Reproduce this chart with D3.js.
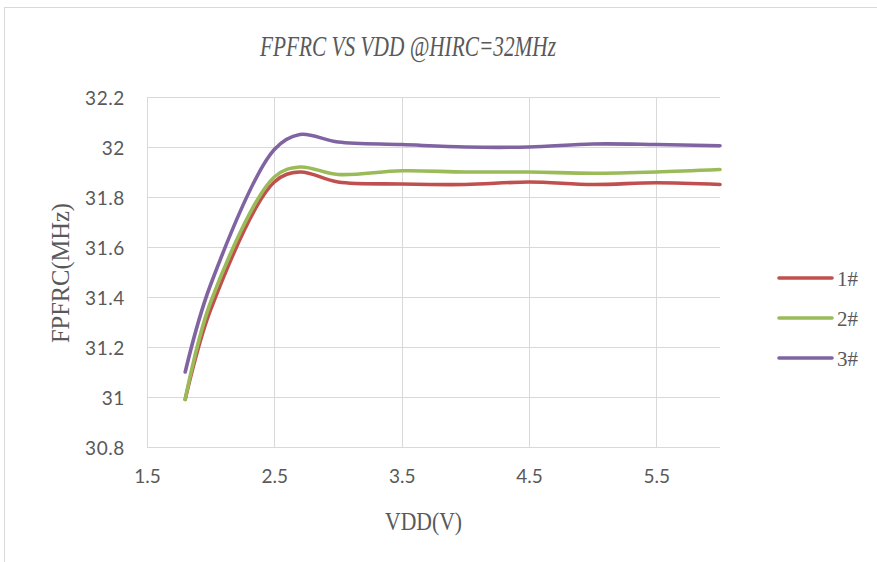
<!DOCTYPE html>
<html>
<head>
<meta charset="utf-8">
<script src="https://cdn.jsdelivr.net/npm/d3@7/dist/d3.min.js"></script>
<style>
  html, body { margin: 0; padding: 0; background: #fff; }
  svg { display: block; }
</style>
</head>
<body>
<script>
// ---- data ----
const vdd = [1.8, 2.0, 2.5, 2.7, 3.0, 3.5, 4.0, 4.5, 5.0, 5.5, 6.0];
const s1 = [30.99, 31.35, 31.86, 31.90, 31.86, 31.852, 31.85, 31.86, 31.85, 31.857, 31.85];
const s2 = [30.99, 31.38, 31.88, 31.92, 31.89, 31.905, 31.90, 31.90, 31.895, 31.90, 31.91];
const s3 = [31.10, 31.45, 31.99, 32.05, 32.02, 32.01, 32.00, 32.00, 32.012, 32.01, 32.005];
const seriesNames = ["1#", "2#", "3#"];
const xTicks = [1.5, 2.5, 3.5, 4.5, 5.5];
const yTicks = [30.8, 31, 31.2, 31.4, 31.6, 31.8, 32, 32.2];
const titleText = "FPFRC VS VDD @HIRC=32MHz";
const xLabel = "VDD(V)";
const yLabel = "FPFRC(MHz)";

const colors = ["#C0504D", "#9BBB59", "#8064A2"];
const series = [s1, s2, s3];

const W = 877, H = 562;
const svg = d3.select("body").append("svg").attr("width", W).attr("height", H);

// chart frame
svg.append("rect").attr("x", 4.5).attr("y", 7.5).attr("width", W + 20).attr("height", H + 20)
  .attr("fill", "#fff").attr("stroke", "#D9D9D9").attr("stroke-width", 1);

const plot = { left: 147, right: 720, top: 97, bottom: 447 };
const x = d3.scaleLinear().domain([1.5, 6.0]).range([plot.left, plot.right]);
const y = d3.scaleLinear().domain([30.8, 32.2]).range([plot.bottom, plot.top]);

// gridlines
const g = svg.append("g");
g.selectAll(".hg").data(yTicks).enter().append("line")
  .attr("x1", plot.left).attr("x2", plot.right)
  .attr("y1", d => Math.round(y(d)) + 0.5).attr("y2", d => Math.round(y(d)) + 0.5)
  .attr("stroke", "#D9D9D9").attr("stroke-width", 1);
g.selectAll(".vg").data(xTicks).enter().append("line")
  .attr("y1", plot.top).attr("y2", plot.bottom)
  .attr("x1", d => Math.round(x(d)) + 0.5).attr("x2", d => Math.round(x(d)) + 0.5)
  .attr("stroke", "#D9D9D9").attr("stroke-width", 1);

// axes via d3 axis generators (labels only)
const labelFont = "Lato, 'Open Sans', sans-serif";
const yAxis = svg.append("g").attr("transform", `translate(${plot.left - 22},0)`)
  .call(d3.axisLeft(y).tickValues(yTicks).tickSize(0).tickPadding(0).tickFormat(d => String(+d.toFixed(1))));
yAxis.select(".domain").remove();
yAxis.selectAll("text").attr("fill", "#595959").style("font-family", labelFont).style("font-size", "19px")
  .attr("dy", "0.38em").attr("letter-spacing", "0.6px");

const xAxis = svg.append("g").attr("transform", `translate(0,${plot.bottom + 22})`)
  .call(d3.axisBottom(x).tickValues(xTicks).tickSize(0).tickPadding(0).tickFormat(d => d.toFixed(1)));
xAxis.select(".domain").remove();
xAxis.selectAll("text").attr("fill", "#595959").style("font-family", labelFont).style("font-size", "19px")
  .attr("dy", "0.71em");

// lines
const line = d3.line().x((d, i) => x(vdd[i])).y(d => y(d)).curve(d3.curveCatmullRom.alpha(0.5));
svg.append("g").selectAll("path").data(series).enter().append("path")
  .attr("d", d => line(d)).attr("fill", "none")
  .attr("stroke", (d, i) => colors[i]).attr("stroke-width", 3.6)
  .attr("stroke-linecap", "round").attr("stroke-linejoin", "round");

// title
const serifFont = "'Liberation Serif', 'DejaVu Serif', serif";
svg.append("text").attr("x", 260).attr("y", 56).text(titleText)
  .attr("fill", "#595959").style("font-family", serifFont).style("font-style", "italic")
  .style("font-size", "29px").attr("textLength", 296).attr("lengthAdjust", "spacingAndGlyphs");

// axis titles
svg.append("text").attr("x", 385).attr("y", 530).text(xLabel)
  .attr("fill", "#595959").style("font-family", serifFont).style("font-size", "26px")
  .attr("textLength", 77).attr("lengthAdjust", "spacingAndGlyphs");
svg.append("text").attr("transform", "translate(69,343) rotate(-90)").text(yLabel)
  .attr("fill", "#595959").style("font-family", serifFont).style("font-size", "25px")
  .attr("textLength", 140).attr("lengthAdjust", "spacingAndGlyphs");

// legend
const leg = svg.append("g");
seriesNames.forEach((name, i) => {
  const ly = 278 + i * 40;
  leg.append("line").attr("x1", 779).attr("x2", 832).attr("y1", ly).attr("y2", ly)
    .attr("stroke", colors[i]).attr("stroke-width", 3.6).attr("stroke-linecap", "round");
  leg.append("text").attr("x", 837).attr("y", ly + 8).text(name)
    .attr("fill", "#595959").style("font-family", serifFont).style("font-size", "22px")
    .attr("textLength", 21).attr("lengthAdjust", "spacingAndGlyphs");
});
</script>
</body>
</html>
